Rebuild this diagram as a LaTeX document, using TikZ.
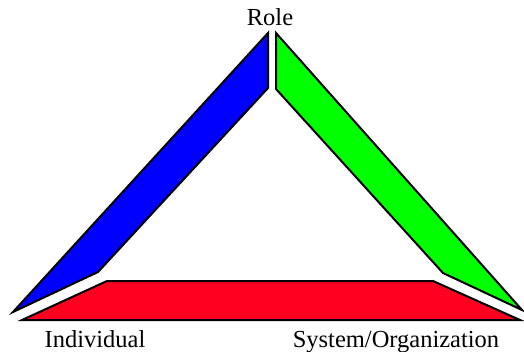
\documentclass[tikz,border=0pt]{standalone}
\usepackage{fontspec}
\setmainfont{Liberation Serif}
\definecolor{rolered}{RGB}{255,0,32}
\definecolor{roleblue}{RGB}{0,0,255}
\definecolor{rolegreen}{RGB}{0,255,0}
\begin{document}
\begin{tikzpicture}[x=1pt,y=-1pt,
  side/.style={draw=black,line width=2pt,line join=miter,miter limit=20},
  lbl/.style={font=\fontsize{24.5}{27}\selectfont,inner sep=0pt,anchor=base}]
\useasboundingbox (0,0) rectangle (524,351);
% left side of the triangle
\fill[roleblue,side] (268,33) -- (268,88) -- (98,272) -- (13,312) -- cycle;
% right side
\fill[rolegreen,side] (276,33) -- (522,310) -- (443,273) -- (276,89) -- cycle;
% base
\fill[rolered,side] (107,281) -- (433,281) -- (520,320) -- (22,320) -- cycle;
% corner labels
\node[lbl] (role) at (270,25) {Role};
\node[lbl] (indiv) at (95,347) {Individual};
\node[lbl] (sys) at (396,347) {System/Organization};
\end{tikzpicture}
\end{document}
